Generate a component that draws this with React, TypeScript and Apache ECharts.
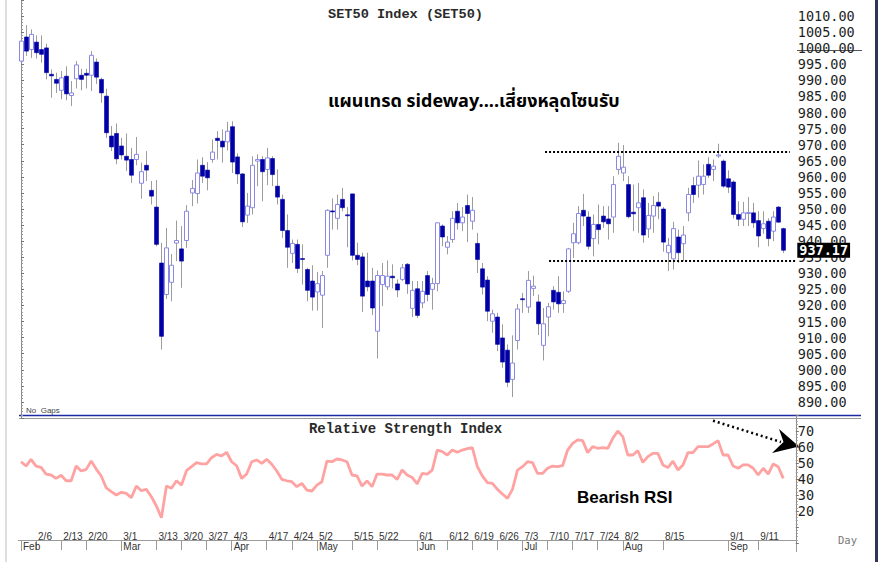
import React, { useEffect, useRef } from 'react';
import * as echarts from 'echarts';

// Trading days (2017) per month
const febDays = [1, 2, 3, 6, 7, 8, 9, 10, 13, 14, 15, 16, 17, 20, 21, 22, 23, 24, 27, 28];
const marDays = [1, 2, 3, 6, 7, 8, 9, 13, 14, 15, 16, 17, 20, 21, 22, 23, 24, 27, 28, 29, 30, 31];
const aprDays = [3, 4, 5, 7, 10, 11, 12, 17, 18, 19, 20, 21, 24, 25, 26, 27, 28];
const mayDays = [2, 3, 4, 8, 9, 11, 12, 15, 16, 17, 18, 19, 22, 23, 24, 25, 26, 29, 30, 31];
const junDays = [1, 5, 6, 7, 8, 9, 12, 13, 14, 15, 16, 19, 20, 21, 22, 23, 26, 27, 28, 29, 30];
const julDays = [3, 4, 5, 6, 7, 10, 11, 12, 13, 14, 17, 18, 19, 20, 21, 24, 25, 26, 27, 31];
const augDays = [2, 3, 4, 7, 8, 9, 10, 11, 15, 16, 17, 18, 21, 22, 23, 24, 25, 28, 29, 30, 31];
const sepDays = [1, 4, 5, 6, 7, 8, 11, 12, 13, 14, 15, 18, 19, 20];

const monthNames = ['Feb', 'Mar', 'Apr', 'May', 'Jun', 'Jul', 'Aug', 'Sep'];
const monthDays = [febDays, marDays, aprDays, mayDays, junDays, julDays, augDays, sepDays];

const dateTickLabels = ['2/6', '2/13', '2/20', '3/1', '3/13', '3/20', '3/27', '4/3', '4/17', '4/24', '5/2', '5/15', '5/22', '6/1', '6/12', '6/19', '6/26', '7/3', '7/10', '7/17', '7/24', '8/2', '8/15', '9/1', '9/11'];

const opens = [
  996.0, 1003.5, 999.6, 1001.9, 999.6, 1000.1, 991.9, 990.3, 986.9, 991.3,
  985.3, 990.5, 991.6, 992.2, 991.6, 995.7, 990.3, 985.1, 972.7, 973.5,
  969.6, 966.4, 965.4, 965.4, 958.0, 963.6, 955.8, 950.6, 933.2, 923.4,
  927.2, 939.4, 937.6, 940.2, 955.0, 954.8, 963.6, 962.1, 965.4, 972.0,
  971.1, 970.9, 975.6, 966.2, 960.9, 948.1, 950.4, 964.9, 965.4, 962.3,
  965.7, 957.1, 953.0, 943.3, 936.2, 939.0, 934.6, 931.2, 927.6, 924.2,
  923.2, 935.6, 949.4, 947.1, 953.0, 948.2, 954.7, 935.6, 935.1, 927.6,
  927.6, 912.0, 926.5, 925.8, 929.1, 926.7, 928.1, 932.8, 919.1, 925.2,
  920.8, 929.3, 925.0, 926.8, 944.7, 938.1, 940.5, 949.3, 945.7, 951.1,
  946.2, 939.3, 931.4, 927.9, 915.1, 916.4, 909.9, 906.1, 897.0, 909.1,
  922.1, 919.5, 925.3, 921.1, 907.6, 916.4, 924.7, 924.1, 920.6, 924.4,
  939.5, 939.5, 949.6, 947.5, 940.8, 945.2, 947.8, 946.9, 947.5, 962.3,
  961.2, 957.6, 949.0, 950.4, 953.5, 943.8, 947.8, 952.1, 950.0, 936.4,
  934.5, 941.3, 939.2, 948.8, 957.3, 957.4, 957.6, 963.9, 962.3, 966.6,
  964.9, 959.4, 958.4, 948.3, 946.8, 948.7, 948.8, 946.4, 943.9, 946.2,
  943.1, 950.6, 943.9,
];
const closes = [
  1002.2, 999.1, 1004.3, 998.6, 998.1, 992.4, 991.4, 989.1, 990.8, 985.8,
  986.1, 994.8, 990.3, 991.6, 997.8, 991.0, 986.1, 973.7, 969.3, 965.6,
  966.8, 965.2, 960.5, 967.0, 961.6, 962.1, 954.0, 939.0, 910.4, 937.9,
  932.5, 940.2, 933.8, 949.3, 956.4, 961.2, 960.2, 959.7, 967.7, 971.3,
  969.3, 974.2, 964.6, 960.9, 946.0, 950.9, 963.6, 965.4, 961.6, 965.9,
  960.7, 953.7, 943.3, 938.1, 939.3, 931.5, 934.3, 924.7, 922.6, 926.8,
  929.3, 949.6, 949.2, 951.4, 950.4, 948.0, 935.6, 934.3, 922.9, 925.8,
  919.2, 929.3, 929.3, 929.1, 928.6, 924.8, 931.7, 926.7, 924.7, 916.9,
  924.4, 923.4, 926.8, 945.7, 941.3, 939.7, 947.1, 945.7, 947.5, 948.6,
  949.6, 934.3, 925.7, 918.2, 917.4, 907.9, 902.4, 896.1, 902.1, 918.9,
  922.0, 927.8, 926.0, 914.3, 914.3, 919.6, 921.1, 920.5, 921.5, 937.6,
  942.3, 948.6, 947.8, 938.4, 945.2, 943.6, 946.0, 945.4, 957.6, 966.4,
  963.0, 947.6, 948.5, 951.9, 941.9, 948.0, 951.1, 950.9, 939.7, 938.7,
  943.9, 936.4, 941.9, 954.5, 954.5, 960.2, 960.2, 960.5, 963.3, 966.8,
  957.1, 956.8, 948.3, 946.8, 948.8, 948.9, 945.7, 941.6, 945.4, 940.8,
  947.5, 945.9, 937.17,
];
const highs = [
  1004.3, 1007.2, 1005.9, 1004.0, 1004.0, 1001.4, 993.4, 992.4, 992.9, 994.4,
  989.8, 996.0, 993.6, 993.6, 999.1, 996.8, 990.8, 987.4, 975.8, 976.6,
  972.1, 973.5, 969.0, 972.4, 964.4, 968.0, 958.7, 959.0, 939.5, 944.1,
  936.0, 946.4, 944.7, 951.2, 959.0, 965.4, 966.1, 964.6, 971.6, 974.2,
  974.8, 977.1, 977.3, 967.3, 961.2, 955.0, 966.4, 967.0, 966.4, 969.0,
  966.4, 962.3, 954.5, 948.3, 940.5, 940.5, 939.0, 931.7, 932.5, 930.4,
  930.7, 949.9, 953.3, 954.5, 956.6, 950.6, 954.7, 939.5, 936.4, 936.4,
  931.7, 930.9, 933.2, 934.0, 932.8, 928.1, 932.9, 933.2, 927.6, 927.6,
  927.6, 930.7, 928.6, 945.7, 945.2, 941.6, 949.3, 951.9, 950.6, 954.5,
  953.7, 942.6, 933.2, 929.1, 918.7, 917.7, 914.1, 907.9, 910.7, 920.5,
  923.9, 930.7, 929.3, 923.4, 919.2, 920.8, 926.0, 929.1, 924.4, 937.9,
  945.7, 950.9, 954.7, 949.3, 948.3, 951.4, 950.9, 950.9, 960.2, 970.6,
  969.9, 960.2, 957.6, 958.1, 956.1, 951.9, 954.0, 955.2, 950.6, 941.0,
  946.0, 943.6, 944.7, 956.6, 960.0, 965.1, 963.9, 966.1, 965.4, 970.3,
  965.4, 962.0, 958.9, 952.4, 952.2, 953.7, 951.9, 949.3, 949.3, 947.1,
  949.3, 950.9, 944.2,
];
const lows = [
  995.7, 997.6, 997.0, 996.8, 995.5, 990.3, 984.6, 986.1, 984.1, 983.8,
  982.0, 987.5, 986.9, 987.5, 986.7, 988.9, 983.0, 972.1, 968.0, 963.9,
  965.4, 961.8, 958.1, 963.6, 953.2, 958.7, 951.4, 938.4, 906.3, 922.0,
  921.3, 933.8, 925.5, 937.9, 950.9, 951.7, 958.1, 955.8, 964.4, 965.4,
  964.4, 968.2, 961.2, 957.8, 944.4, 945.7, 948.3, 957.1, 952.4, 957.4,
  957.1, 951.4, 941.0, 931.7, 933.2, 930.1, 926.5, 921.3, 918.4, 918.4,
  913.0, 931.7, 943.6, 943.6, 949.3, 938.1, 934.0, 932.5, 918.0, 924.4,
  917.0, 903.5, 919.8, 924.8, 925.3, 922.6, 927.6, 923.6, 916.4, 916.1,
  919.1, 921.3, 918.7, 924.4, 938.4, 935.9, 939.5, 943.6, 943.1, 939.7,
  943.6, 930.1, 923.4, 915.1, 911.5, 905.8, 900.6, 894.6, 891.5, 906.3,
  917.7, 917.7, 922.9, 910.8, 902.9, 910.4, 918.7, 917.7, 917.7, 923.9,
  934.8, 939.0, 944.7, 937.4, 935.3, 939.0, 944.1, 940.5, 942.6, 960.7,
  958.7, 947.1, 943.1, 942.6, 939.5, 941.0, 942.6, 946.8, 936.7, 930.7,
  931.2, 933.2, 933.8, 946.2, 951.9, 953.5, 954.5, 959.7, 958.7, 965.9,
  956.6, 955.0, 947.1, 944.7, 944.7, 944.7, 944.1, 938.1, 942.3, 938.4,
  940.0, 945.7, 936.3,
];
const rsi = [
  50.8, 48.1, 52.3, 48.1, 47.3, 43.1, 42.5, 40.4, 42.3, 38.9,
  38.9, 48.1, 45.0, 46.0, 51.2, 46.2, 41.9, 34.4, 32.1, 30.0,
  31.7, 31.0, 28.3, 35.6, 32.7, 33.5, 28.9, 23.1, 15.8, 35.6,
  34.2, 38.9, 36.2, 45.2, 47.7, 50.2, 49.4, 49.4, 53.3, 55.4,
  54.4, 56.7, 50.8, 48.3, 40.4, 43.1, 50.8, 51.9, 49.8, 52.3,
  49.2, 45.0, 39.8, 38.9, 38.3, 35.2, 37.3, 33.1, 32.5, 36.2,
  38.3, 51.2, 50.8, 52.5, 51.9, 50.8, 42.5, 41.9, 35.6, 38.8,
  35.2, 43.1, 43.1, 42.5, 42.5, 39.8, 45.6, 42.5, 41.0, 36.9,
  43.5, 43.1, 45.6, 58.1, 57.1, 55.0, 58.1, 56.7, 58.1, 59.0,
  59.6, 47.7, 41.9, 37.7, 37.3, 33.5, 30.6, 27.9, 33.5, 45.6,
  47.7, 50.8, 50.2, 43.5, 43.5, 46.7, 48.1, 47.7, 48.3, 58.1,
  62.3, 64.4, 64.0, 56.5, 60.2, 59.2, 59.6, 59.2, 65.4, 70.0,
  66.5, 55.0, 55.0, 57.7, 50.4, 54.0, 56.0, 56.0, 48.8, 47.1,
  51.2, 45.6, 48.8, 56.5, 56.5, 60.2, 60.2, 60.2, 61.9, 64.0,
  55.0, 55.0, 48.1, 46.7, 48.8, 48.8, 46.7, 42.5, 46.7, 43.1,
  49.4, 47.7, 40.4,
];

// Annotation levels
const resistance = 967.8;
const support = 933.9;
const lastPrice = 937.17;

const dates: string[] = [];
const monthStartIdx: number[] = [];
monthDays.forEach((days, m) => {
  monthStartIdx.push(dates.length);
  days.forEach((d) => dates.push(`${m + 2}/${d}`));
});

const dateTickIdx = dateTickLabels.map((l) => {
  const i = dates.indexOf(l);
  if (i >= 0) return i;
  const [mm, dd] = l.split('/').map(Number);
  return dates.findIndex((s) => {
    const [m2, d2] = s.split('/').map(Number);
    return m2 === mm && d2 >= dd;
  });
});
const dateLabelMap: Record<number, string> = {};
dateTickIdx.forEach((i, k) => (dateLabelMap[i] = dateTickLabels[k]));
const monthLabelMap: Record<number, string> = {};
monthStartIdx.forEach((i, k) => (monthLabelMap[i] = monthNames[k]));

const GRID_LEFT = 18.5;
const GRID_W = 777.3;

export default function App() {
  const ref = useRef<HTMLDivElement>(null);
  useEffect(() => {
    const chart = echarts.init(ref.current!, null, { renderer: 'svg' });
    const candleData = opens.map((o, i) => [i, o, closes[i], lows[i], highs[i]]);
    const n = dates.length;
    const option: any = {
      animation: false,
      backgroundColor: '#ffffff',
      grid: [
        { left: GRID_LEFT, width: GRID_W, top: -1, height: 419 },
        { left: GRID_LEFT, width: GRID_W, top: 415, height: 128 },
        { left: GRID_LEFT, width: GRID_W, top: 530, height: 10 },
      ],
      xAxis: [
        { gridIndex: 0, type: 'category', data: dates, show: false },
        { gridIndex: 1, type: 'category', data: dates, show: false },
        {
          gridIndex: 2, type: 'category', data: dates, position: 'top',
          axisLine: { show: true, lineStyle: { color: '#9a9a9a', width: 1 } },
          axisTick: { show: true, inside: true, length: 10, alignWithLabel: true, interval: (i: number) => dateLabelMap[i] !== undefined, lineStyle: { color: '#9a9a9a' } },
          axisLabel: {
            inside: true, interval: (i: number) => dateLabelMap[i] !== undefined,
            formatter: (_v: string, i: number) => dateLabelMap[i] || '',
            align: 'left', margin: 1, padding: [0, 0, 0, 2], fontSize: 10, color: '#333',
            fontFamily: 'Liberation Sans, Arial, sans-serif',
          },
          splitLine: { show: false },
        },
        {
          gridIndex: 2, type: 'category', data: dates, position: 'bottom',
          axisLine: { show: true, lineStyle: { color: '#9a9a9a', width: 1 } },
          axisTick: { show: true, inside: false, length: 11, alignWithLabel: true, interval: (i: number) => monthLabelMap[i] !== undefined, lineStyle: { color: '#9a9a9a' } },
          axisLabel: {
            interval: (i: number) => monthLabelMap[i] !== undefined,
            formatter: (_v: string, i: number) => monthLabelMap[i] || '',
            align: 'left', margin: 1, padding: [0, 0, 0, 2], fontSize: 10, color: '#333',
            fontFamily: 'Liberation Sans, Arial, sans-serif',
          },
          splitLine: { show: false },
        },
        { gridIndex: 0, type: 'value', min: -0.5, max: n - 0.5, show: false },
      ],
      yAxis: [
        {
          gridIndex: 0, type: 'value', position: 'right', min: 885, max: 1015, interval: 5,
          axisLine: { show: true, lineStyle: { color: '#8a8a8a', width: 1 } },
          axisTick: { show: true, length: 3, lineStyle: { color: '#777' } },
          minorTick: { show: true, splitNumber: 5, length: 2, lineStyle: { color: '#999' } },
          splitLine: { show: false },
          axisLabel: {
            showMinLabel: false, showMaxLabel: false, margin: 2,
            formatter: (v: number) => v.toFixed(2),
            fontFamily: 'DejaVu Sans Mono, monospace', fontSize: 13.5, color: '#1e1e1e',
          },
        },
        {
          gridIndex: 1, type: 'value', position: 'right', min: 0, max: 80, interval: 10,
          axisLine: { show: true, lineStyle: { color: '#8a8a8a', width: 1 } },
          axisTick: { show: true, length: 3, lineStyle: { color: '#777' } },
          minorTick: { show: true, splitNumber: 5, length: 2, lineStyle: { color: '#999' } },
          splitLine: { show: false },
          axisLabel: {
            margin: 2,
            formatter: (v: number) => (v >= 20 && v <= 70 ? String(v) : ''),
            fontFamily: 'DejaVu Sans Mono, monospace', fontSize: 13.5, color: '#1e1e1e',
          },
        },
        { gridIndex: 2, type: 'value', show: false },
      ],
      series: [
        {
          type: 'custom',
          xAxisIndex: 0, yAxisIndex: 0,
          data: candleData,
          encode: { x: 0, y: [1, 2, 3, 4] },
          renderItem: (_p: any, api: any) => {
            const i = api.value(0);
            const o = api.value(1), c = api.value(2), l = api.value(3), h = api.value(4);
            const x = Math.round(api.coord([i, o])[0]) + 0.5;
            const top = api.coord([i, Math.max(o, c)])[1];
            const bot = api.coord([i, Math.min(o, c)])[1];
            const hy = api.coord([i, h])[1];
            const ly = api.coord([i, l])[1];
            const bull = c >= o;
            return {
              type: 'group',
              children: [
                { type: 'line', shape: { x1: x, y1: hy, x2: x, y2: ly }, style: { stroke: '#9c9c9c', lineWidth: 1 } },
                {
                  type: 'rect',
                  shape: { x: x - 2, y: top, width: 4, height: Math.max(bot - top, 1) },
                  style: bull ? { fill: '#ffffff', stroke: '#8a8ae6', lineWidth: 1 } : { fill: '#0000a6', stroke: '#0000a6', lineWidth: 0.6 },
                },
              ],
            };
          },
          z: 3,
        },
        {
          type: 'line',
          xAxisIndex: 4, yAxisIndex: 0,
          data: [[0, 950]],
          showSymbol: false,
          lineStyle: { opacity: 0 },
          silent: true,
          z: 4,
          markLine: {
            silent: true, symbol: 'none', label: { show: false },
            lineStyle: { type: [2, 2], color: '#000', width: 2 },
            data: [
              [{ coord: [104.5, resistance] }, { coord: [153.3, resistance] }],
              [{ coord: [105.3, support] }, { coord: [154.45, support] }],
            ],
          },
          markPoint: {
            silent: true, symbol: 'rect', symbolSize: 1, itemStyle: { color: 'rgba(0,0,0,0)' },
            data: [{ coord: [n - 0.5, lastPrice], value: lastPrice }],
            label: {
              show: true, position: 'right', distance: 1,
              formatter: () => lastPrice.toFixed(2),
              backgroundColor: '#000', color: '#fff', padding: [1, 2, 0, 2],
              fontFamily: 'DejaVu Sans Mono, monospace', fontSize: 13.5, fontWeight: 'bold',
            },
          },
        },
        {
          type: 'line',
          xAxisIndex: 1, yAxisIndex: 1,
          data: rsi,
          showSymbol: false,
          lineStyle: { color: '#ffa2a2', width: 2.8 },
          silent: true,
        },
      ],
      graphic: [
        { type: 'rect', shape: { x: 5, y: 0, width: 2, height: 562 }, style: { fill: '#dedede' }, silent: true },
        { type: 'rect', shape: { x: 875, y: 0, width: 3, height: 562 }, style: { fill: '#2e3558' }, silent: true },
        { type: 'line', shape: { x1: 19, y1: 415.5, x2: 861, y2: 415.5 }, style: { stroke: '#1c2aa6', lineWidth: 1.6 }, silent: true },
        { type: 'line', shape: { x1: 19, y1: 418.5, x2: 861, y2: 418.5 }, style: { stroke: '#9a9a9a', lineWidth: 1 }, silent: true },
        { type: 'line', shape: { x1: 797, y1: 50.5, x2: 862, y2: 50.5 }, style: { stroke: '#555', lineWidth: 1 }, silent: true },
        { type: 'line', shape: { x1: 796.5, y1: 530, x2: 796.5, y2: 552 }, style: { stroke: '#9a9a9a', lineWidth: 1 }, silent: true },
        {
          type: 'text', x: 405.5, y: 14,
          style: { text: 'SET50 Index (SET50)', fontFamily: 'Liberation Mono, monospace', fontSize: 13.6, fontWeight: 'bold', fill: '#2a2a2a', textAlign: 'center', textVerticalAlign: 'middle' },
        },
        {
          type: 'text', x: 405.5, y: 429,
          style: { text: 'Relative Strength Index', fontFamily: 'Liberation Mono, monospace', fontSize: 14, fontWeight: 'bold', fill: '#2a2a2a', textAlign: 'center', textVerticalAlign: 'middle' },
        },
        {
          type: 'text', x: 328, y: 101,
          style: { text: 'แผนเทรด sideway....เสี่ยงหลุดโซนรับ', fontFamily: "'Noto Sans Thai', Tahoma, 'Noto Sans', 'DejaVu Sans', sans-serif", fontSize: 18, fontWeight: 'bold', fill: '#000', textAlign: 'left', textVerticalAlign: 'middle' },
        },
        {
          type: 'text', x: 577, y: 497,
          style: { text: 'Bearish RSI', fontFamily: 'Liberation Sans, Arial, sans-serif', fontSize: 17, fontWeight: 'bold', fill: '#000', textAlign: 'left', textVerticalAlign: 'middle' },
        },
        {
          type: 'text', x: 26, y: 410.5,
          style: { text: 'No  Gaps', fontFamily: 'Liberation Sans, Arial, sans-serif', fontSize: 8, fill: '#444', textAlign: 'left', textVerticalAlign: 'middle' },
        },
        {
          type: 'text', x: 838, y: 540,
          style: { text: 'Day', fontFamily: 'DejaVu Sans Mono, monospace', fontSize: 10.5, fill: '#777', textAlign: 'left', textVerticalAlign: 'middle' },
        },
        {
          type: 'line', shape: { x1: 713, y1: 420.7, x2: 781, y2: 442 },
          style: { stroke: '#000', lineWidth: 2.5, lineDash: [2, 3] }, silent: true,
        },
        {
          type: 'polygon', shape: { points: [[779, 429], [799, 446.5], [772, 453], [783.5, 442]] },
          style: { fill: '#000' }, silent: true,
        },
      ],
    };
    chart.setOption(option);
    return () => chart.dispose();
  }, []);
  return <div ref={ref} style={{ position: 'absolute', left: 0, top: 0, width: 878, height: 562 }} />;
}
